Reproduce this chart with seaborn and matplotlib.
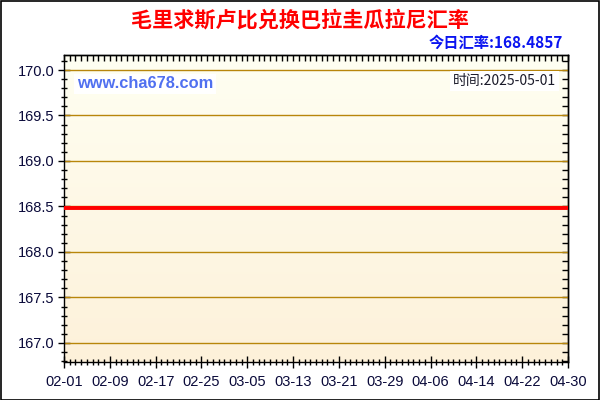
import numpy as np
import pandas as pd
import matplotlib
matplotlib.use("Agg")
import matplotlib.pyplot as plt
import matplotlib.dates as mdates
from matplotlib.ticker import MultipleLocator
from matplotlib.patches import Rectangle
import seaborn as sns

# ---- data ----
title = "毛里求斯卢比兑换巴拉圭瓜拉尼汇率"
today_label = "今日汇率:168.4857"
site_label = "www.cha678.com"
time_label = "时间:2025-05-01"
dates = ["2025-02-01", "2025-05-01"]
rates = [168.4857, 168.4857]
x_start, x_end = "2025-02-01", "2025-04-30"
y_min, y_max = 166.79, 170.165

sns.set_theme(style="white")
plt.rcParams['font.family'] = ['Liberation Sans', 'Noto Sans CJK SC', 'DejaVu Sans']

fig = plt.figure(figsize=(6, 4), dpi=100)
fig.patch.set_facecolor("white")
fig.patches.append(Rectangle((0.001, 0.001), 0.997, 0.996, transform=fig.transFigure,
                             fill=False, edgecolor="black", linewidth=1.2, zorder=10))

ax = fig.add_axes([64/600, (400-362)/400, (568-64)/600, (362-55)/400])

df = pd.DataFrame({"date": pd.to_datetime(dates), "rate": rates})

x0 = mdates.date2num(pd.Timestamp(x_start))
x1 = mdates.date2num(pd.Timestamp(x_end))

# gradient background
grad = np.linspace(0, 1, 256).reshape(-1, 1)
top_c = np.array([255, 255, 242]) / 255
bot_c = np.array([253, 241, 218]) / 255
img = top_c[None, None, :] * (1 - grad[:, :, None]) + bot_c[None, None, :] * grad[:, :, None]
ax.imshow(img, extent=[x0, x1, y_min, y_max], origin="upper", aspect="auto", zorder=0)

# grid lines
for yv in np.arange(167.0, 170.01, 0.5):
    ax.axhline(yv, color="#B8860B", linewidth=1, zorder=1)

sns.lineplot(data=df, x="date", y="rate", ax=ax, color="#FF0000", linewidth=2.8, zorder=3)

ax.set_xlim(x0, x1)
ax.set_ylim(y_min, y_max)
ax.set_xlabel("")
ax.set_ylabel("")

major_days = pd.date_range(x_start, x_end, freq="8D")
ax.set_xticks(mdates.date2num(major_days))
ax.set_xticklabels([d.strftime("%m-%d") for d in major_days])
ax.xaxis.set_minor_locator(mdates.DayLocator())
ax.yaxis.set_major_locator(MultipleLocator(0.5))
ax.yaxis.set_minor_locator(MultipleLocator(0.1))
ax.yaxis.set_major_formatter(matplotlib.ticker.FormatStrFormatter("%.1f"))

ax.tick_params(axis="both", which="major", direction="inout", length=8, width=1,
               color="black", labelsize=10.5, labelcolor="#0a0a3a", pad=3)
ax.tick_params(axis="both", which="minor", direction="inout", length=5, width=1, color="black")
ax.tick_params(axis="x", which="major", pad=5)
ax.tick_params(bottom=True, left=True, which="both")

for s in ax.spines.values():
    s.set_color("black")
    s.set_linewidth(1)

# top & right inward ticks
axt = ax.secondary_xaxis("top")
axt.xaxis.set_major_locator(mdates.DayLocator())
axt.tick_params(direction="in", length=4, width=1, color="black", labeltop=False, top=True)
axt.set_xticklabels([])
axr = ax.secondary_yaxis("right")
axr.yaxis.set_major_locator(MultipleLocator(0.1))
axr.tick_params(direction="in", length=4, width=1, color="black", labelright=False, right=True)
axr.set_yticklabels([])
for sa in (axt, axr):
    for s in sa.spines.values():
        s.set_linewidth(1)
        s.set_color("black")

cjk = ['Noto Sans CJK SC', 'DejaVu Sans']
fig.text(300/600, 1 - 20/400, title, ha="center", va="center", fontsize=15.2,
         fontweight="bold", color="#FF0000", family=cjk)
fig.text(563/600, 1 - 43/400, today_label, ha="right", va="center", fontsize=11,
         fontweight="bold", color="#0A14F0", family=cjk)
ax.text(77/600, 1 - 84/400, site_label, transform=fig.transFigure, ha="left", va="center",
        fontsize=11.8, fontweight="bold", color="#5070F0", family=['Liberation Sans'],
        bbox=dict(facecolor="white", edgecolor="none", pad=2), zorder=5)
ax.text(556/600, 1 - 81/400, time_label, transform=fig.transFigure, ha="right", va="center",
        fontsize=10, color="#1a1a2a", family=cjk,
        bbox=dict(facecolor="white", edgecolor="none", pad=2), zorder=5)

fig.savefig("out.png", dpi=100)
